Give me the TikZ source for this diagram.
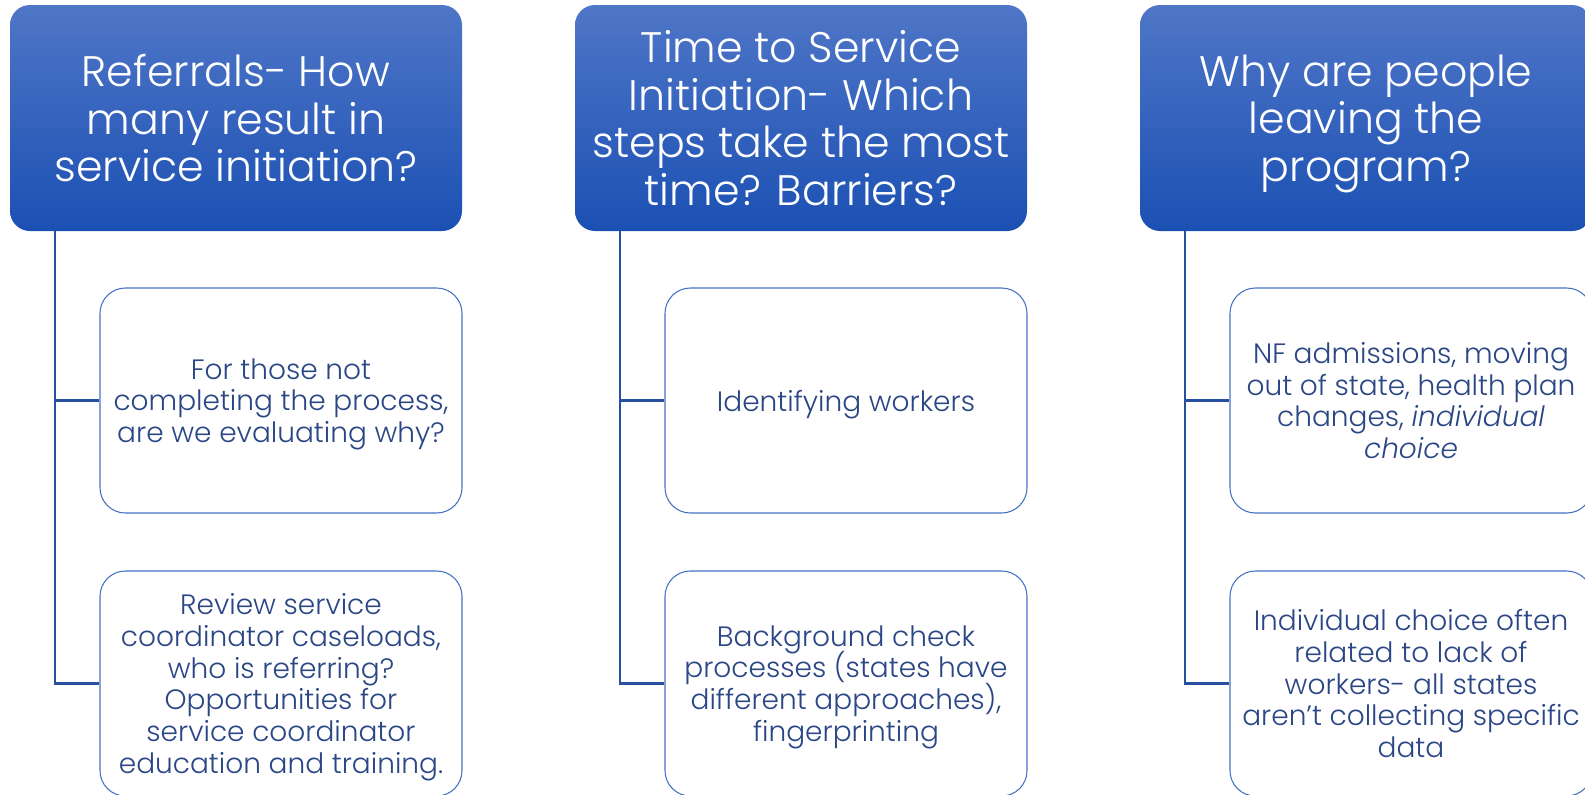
\documentclass[tikz,border=0pt]{standalone}
\usepackage{fontspec}
\setmainfont{Poppins}[UprightFont=* Light, ItalicFont=* Light Italic]
\usetikzlibrary{calc}
\lineskiplimit=-30pt
\newcommand\lastln[1]{\raisebox{0pt}[\height][0pt]{#1}}
\definecolor{hdtop}{HTML}{4F76C7}
\definecolor{hdmid}{HTML}{2A5DC3}
\definecolor{hdbot}{HTML}{1B50B3}
\definecolor{txtnavy}{HTML}{2A4685}
\definecolor{boxline}{HTML}{4472C4}
\definecolor{connc}{HTML}{2850A0}
\tikzset{
  x=0.75pt, y=-0.75pt,
  header/.style={rounded corners=15pt, top color=hdtop, middle color=hdmid, bottom color=hdbot, draw=none,
    minimum width=339pt, minimum height=169.5pt, align=center, text=white,
    font=\fontsize{32}{35.6}\selectfont, inner sep=0pt},
  child/.style={rounded corners=19pt, draw=boxline, line width=0.8pt, fill=white,
    minimum width=271.5pt, minimum height=168.75pt, align=center, text=txtnavy,
    font=\fontsize{21}{23.9}\selectfont, inner sep=0pt},
  conn/.style={draw=connc, line width=1.6pt}
}
\begin{document}
\begin{tikzpicture}
\useasboundingbox (0,0) rectangle (1585,794);
\clip (0,0) rectangle (1585,794);
% column 1
\node[header] (h1) at (236,118) {Referrals- How\\many result in\\\lastln{service initiation?}};
\node[child] (c11) at (281,400.5) {For those not\\completing the process,\\\lastln{are we evaluating why?}};
\node[child] (c12) at (281,683.5) {Review service\\coordinator caseloads,\\who is referring?\\Opportunities for\\service coordinator\\\lastln{education and training.}};
% column 2
\node[header] (h2) at (801,118) {Time to Service\\Initiation- Which\\steps take the most\\\lastln{time? Barriers?}};
\node[child] (c21) at (846,400.5) {\lastln{Identifying workers}};
\node[child] (c22) at (846,683.5) {Background check\\processes (states have\\different approaches),\\\lastln{fingerprinting}};
% column 3
\node[header] (h3) at (1366,118) {Why are people\\leaving the\\\lastln{program?}};
\node[child] (c31) at (1411,400.5) {NF admissions, moving\\out of state, health plan\\changes, \textit{individual}\\\lastln{\textit{choice}}};
\node[child] (c32) at (1411,683.5) {Individual choice often\\related to lack of\\workers- all states\\aren’t collecting specific\\\lastln{data}};
% connectors
\coordinate (s1) at ($(h1.south west)+(45,0)$);
\coordinate (s2) at ($(h2.south west)+(45,0)$);
\coordinate (s3) at ($(h3.south west)+(45,0)$);
\draw[conn] (s1) |- (c12.west);
\draw[conn] (s1) |- (c11.west);
\draw[conn] (s2) |- (c22.west);
\draw[conn] (s2) |- (c21.west);
\draw[conn] (s3) |- (c32.west);
\draw[conn] (s3) |- (c31.west);
\end{tikzpicture}
\end{document}
